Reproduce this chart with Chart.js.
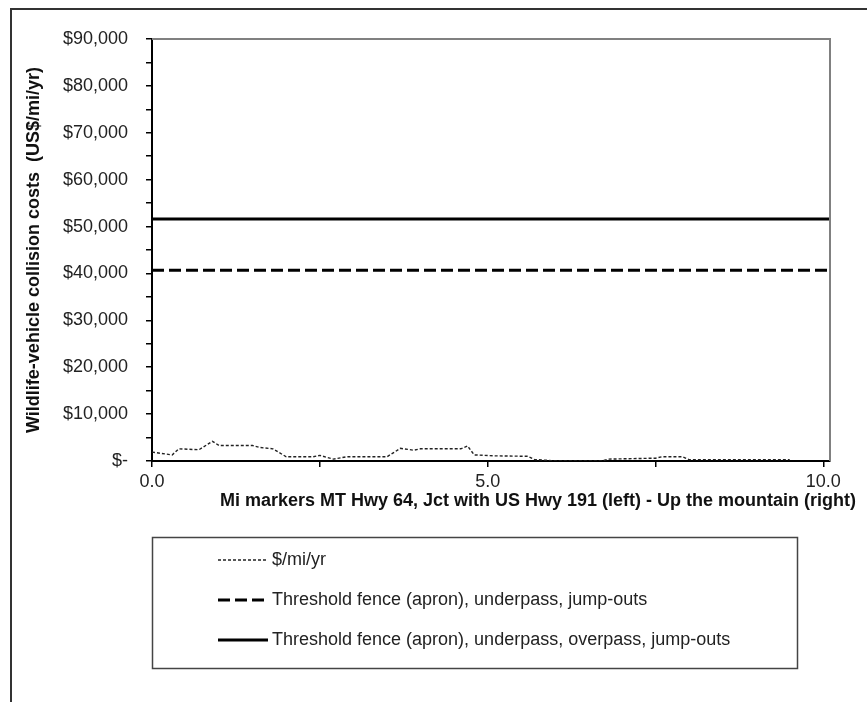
<!DOCTYPE html>
<html>
<head>
<meta charset="utf-8">
<script src="https://cdn.jsdelivr.net/npm/chart.js@4.4.1/dist/chart.umd.min.js"></script>
<style>
  html, body { margin: 0; padding: 0; background: #fff; }
</style>
</head>
<body>
<canvas id="myChart" width="867" height="702"></canvas>
<script>
// mile markers and collision cost per mile per year
var miles = [0.0, 0.3, 0.4, 0.7, 0.9, 1.0, 1.5, 1.6, 1.8, 2.0, 2.4, 2.5, 2.7, 2.9, 3.5, 3.7, 3.9, 4.0, 4.6, 4.7, 4.8, 5.1, 5.6, 5.7, 5.9, 6.0, 6.7, 6.8, 7.5, 7.6, 7.9, 8.0, 9.5];
var costs = [1900, 1300, 2600, 2400, 4200, 3300, 3300, 2900, 2600, 900, 900, 1200, 400, 900, 900, 2700, 2300, 2600, 2600, 3200, 1300, 1100, 1000, 300, 150, 0, 0, 400, 600, 900, 900, 300, 300];

// threshold lines
var thresholdMiles = [0, 10.1];
var fenceUnderpass = [40700, 40700];
var fenceOverpass = [51600, 51600];

var seriesNames = [
    '$/mi/yr',
    'Threshold fence (apron), underpass, jump-outs',
    'Threshold fence (apron), underpass, overpass, jump-outs'
];
var yTitle = 'Wildlife-vehicle collision costs  (US$/mi/yr)';
var xTitle = 'Mi markers MT Hwy 64, Jct with US Hwy 191 (left) - Up the mountain (right)';

var FONT = "'Liberation Sans', Arial, sans-serif";

function pts(xs, ys) {
    return xs.map(function (x, i) { return { x: x, y: ys[i] }; });
}

var extras = {
    id: 'extras',
    beforeDraw: function (chart) {
        var ctx = chart.ctx;
        ctx.save();
        ctx.fillStyle = '#fff';
        ctx.fillRect(0, 0, chart.width, chart.height);
        ctx.restore();
    },
    afterDraw: function (chart) {
        var ctx = chart.ctx;
        var a = chart.chartArea;
        ctx.save();
        // plot area top / right border
        ctx.strokeStyle = '#808080';
        ctx.lineWidth = 2;
        ctx.beginPath();
        ctx.moveTo(a.left, a.top);
        ctx.lineTo(a.right, a.top);
        ctx.lineTo(a.right, a.bottom);
        ctx.stroke();

        // outer frame
        ctx.strokeStyle = '#333';
        ctx.beginPath();
        ctx.moveTo(11, chart.height);
        ctx.lineTo(11, 9);
        ctx.lineTo(chart.width, 9);
        ctx.stroke();

        // x axis title
        ctx.font = 'bold 18px ' + FONT;
        ctx.fillStyle = '#111';
        ctx.textAlign = 'center';
        ctx.textBaseline = 'middle';
        ctx.fillText(xTitle, 538, 501);

        // legend box
        ctx.strokeStyle = '#444';
        ctx.lineWidth = 1.5;
        ctx.strokeRect(152.5, 537.5, 645, 131);
        ctx.font = '18px ' + FONT;
        ctx.textAlign = 'left';
        chart.data.datasets.forEach(function (ds, i) {
            var y = 560 + i * 40;
            ctx.beginPath();
            ctx.setLineDash(ds.borderDash || []);
            ctx.lineWidth = ds.borderWidth;
            ctx.strokeStyle = ds.borderColor;
            ctx.moveTo(218, y);
            ctx.lineTo(268, y);
            ctx.stroke();
            ctx.setLineDash([]);
            ctx.fillStyle = '#222';
            ctx.fillText(ds.label, 272, y);
        });
        ctx.restore();
    }
};

var ctx1 = document.getElementById('myChart').getContext('2d');

var myChart1 = new Chart(ctx1, {
    type: 'line',
    data: {
        datasets: [{
            label: seriesNames[0],
            data: pts(miles, costs),
            borderColor: '#222',
            borderWidth: 1.4,
            borderDash: [3, 2],
            pointRadius: 0,
            tension: 0
        }, {
            label: seriesNames[1],
            data: pts(thresholdMiles, fenceUnderpass),
            borderColor: '#000',
            borderWidth: 3,
            borderDash: [12, 5],
            pointRadius: 0
        }, {
            label: seriesNames[2],
            data: pts(thresholdMiles, fenceOverpass),
            borderColor: '#000',
            borderWidth: 3,
            pointRadius: 0
        }]
    },
    plugins: [extras],
    options: {
        responsive: false,
        animation: false,
        layout: {
            padding: { left: 0, top: 39, right: 37, bottom: 0 }
        },
        plugins: {
            legend: { display: false },
            tooltip: { enabled: false }
        },
        scales: {
            x: {
                type: 'linear',
                min: 0,
                max: 10.1,
                afterFit: function (s) { s.height = 702 - 461; },
                grid: { drawOnChartArea: false, drawTicks: true, tickLength: 6, color: '#000', lineWidth: 1.5 },
                border: { display: true, color: '#000', width: 2 },
                ticks: {
                    stepSize: 2.5,
                    includeBounds: false,
                    autoSkip: false,
                    maxRotation: 0,
                    padding: 4,
                    color: '#222',
                    font: { family: FONT, size: 18 },
                    callback: function (v) { return v % 5 === 0 ? v.toFixed(1) : ''; }
                }
            },
            y: {
                min: 0,
                max: 90000,
                afterFit: function (s) { s.width = 152; },
                grid: { drawOnChartArea: false, drawTicks: true, tickLength: 6, color: '#000', lineWidth: 1.5 },
                border: { display: true, color: '#000', width: 2 },
                title: {
                    display: true,
                    text: yTitle,
                    color: '#111',
                    padding: { top: 23, bottom: 0 },
                    font: { family: FONT, size: 18, weight: 'bold' }
                },
                ticks: {
                    stepSize: 5000,
                    autoSkip: false,
                    padding: 18,
                    color: '#222',
                    font: { family: FONT, size: 18 },
                    callback: function (v) {
                        if (v % 10000 !== 0) return '';
                        return v === 0 ? '$-' : '$' + v.toLocaleString('en-US');
                    }
                }
            }
        }
    }
});
</script>
</body>
</html>
